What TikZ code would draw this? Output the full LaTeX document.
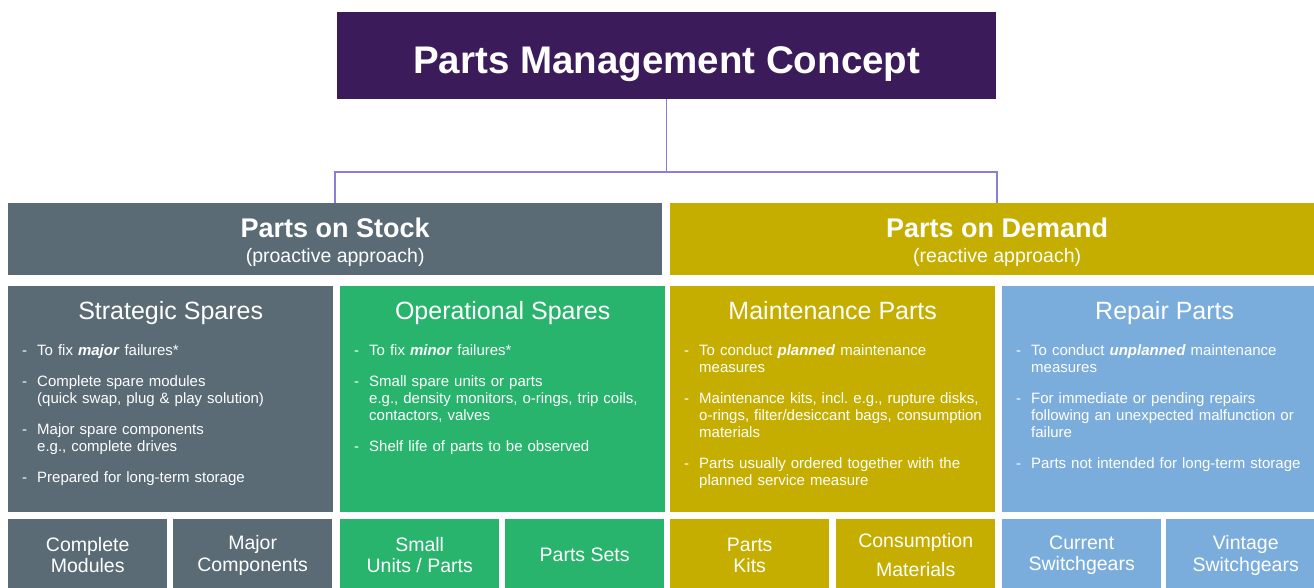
\documentclass[tikz,border=0pt]{standalone}
\usepackage{fontspec}
\setmainfont{Liberation Sans}
\usetikzlibrary{positioning}
\definecolor{pmcpurple}{HTML}{3B1B5A}
\definecolor{linkline}{HTML}{8A7ED6}
\definecolor{slate}{HTML}{5A6B76}
\definecolor{leaf}{HTML}{28B46C}
\definecolor{olive}{HTML}{C5AE00}
\definecolor{sky}{HTML}{7BADDC}
\newcommand\bul[1]{\par\noindent\hangindent=15pt\hangafter=1\makebox[15pt][l]{-}#1\par}

\begin{document}
\frenchspacing
\begin{tikzpicture}[x=1pt,y=-1pt,
    tile/.style={fill=#1, text=white, inner sep=0pt, anchor=north west},
    headbox/.style={minimum width=654pt, minimum height=72pt, align=center,
      text height=50pt, text depth=4pt, font=\fontsize{19.5}{25}\selectfont},
    midbox/.style={minimum width=325pt, minimum height=226pt},
    lowbox/.style={minimum width=159pt, minimum height=72pt, align=center,
      font=\fontsize{19.5}{21.5}\selectfont},
    ttl/.style={text=white, inner sep=0pt, font=\fontsize{25}{28}\selectfont},
    body/.style={text=white, inner sep=0pt, text width=305pt, align=left,
      font=\fontsize{15}{17}\selectfont\setlength\parskip{14pt}},
    link/.style={draw=linkline, line width=1.5pt}]
\useasboundingbox (0,0) rectangle (1314,587);

\node[tile=pmcpurple, minimum width=659pt, minimum height=87pt, text height=35pt, text depth=0pt,
  font=\fontsize{38.5}{44}\selectfont\bfseries] (pmc) at (337,12) {Parts Management Concept};

\node[tile=slate, headbox] (stock) at (8,203)
  {{\fontsize{27}{30}\selectfont\bfseries Parts on Stock}\\(proactive approach)};
\node[tile=olive, headbox] (demand) at (670,203)
  {{\fontsize{27}{30}\selectfont\bfseries Parts on Demand}\\(reactive approach)};

\draw[link] (pmc.south) -- (pmc.south |- 0,172) coordinate (fork);
\draw[link] (stock.north) |- (fork) -| (demand.north);

% middle row
\node[tile=slate, midbox] (strat) at (8,286) {};
\node[tile=leaf, midbox] (oper) at (340,286) {};
\node[tile=olive, midbox] (maint) at (670,286) {};
\node[tile=sky, midbox] (repair) at (1002,286) {};

\node[ttl, below=15pt of strat.north] {Strategic Spares};
\node[ttl, below=15pt of oper.north] {Operational Spares};
\node[ttl, below=15pt of maint.north] {Maintenance Parts};
\node[ttl, below=15pt of repair.north] {Repair Parts};

\node[body, below right=38pt and 14pt of strat.north west] (stratlist) {%
  \bul{To fix \textbf{\textit{major}} failures*}
  \bul{Complete spare modules\newline (quick swap, plug \& play solution)}
  \bul{Major spare components\newline e.g., complete drives}
  \bul{Prepared for long-term storage}};
\node[body, below right=38pt and 14pt of oper.north west] (operlist) {%
  \bul{To fix \textbf{\textit{minor}} failures*}
  \bul{Small spare units or parts\newline e.g., density monitors, o-rings, trip coils,\newline contactors, valves}
  \bul{Shelf life of parts to be observed}};
\node[body, below right=38pt and 14pt of maint.north west] (maintlist) {%
  \bul{To conduct \textbf{\textit{planned}} maintenance\newline measures}
  \bul{Maintenance kits, incl. e.g., rupture disks,\newline o-rings, filter/desiccant bags, consumption\newline materials}
  \bul{Parts usually ordered together with the\newline planned service measure}};
\node[body, below right=38pt and 14pt of repair.north west] (repairlist) {%
  \bul{To conduct \textbf{\textit{unplanned}} maintenance\newline measures}
  \bul{For immediate or pending repairs\newline following an unexpected malfunction or\newline failure}
  \bul{Parts not intended for long-term storage}};

% bottom row
\foreach \nm/\x/\c/\t in {cmod/8/slate/{Complete\\Modules}, mcomp/173/slate/{Major\\Components},
    units/340/leaf/{Small\\Units / Parts}, sets/505/leaf/{Parts Sets},
    kits/670/olive/{Parts\\Kits}, cons/836/olive/{Consumption\\[8pt]Materials},
    cur/1002/sky/{Current\\Switchgears}, vint/1166/sky/{Vintage\\Switchgears}}
  \node[tile=\c, lowbox] (\nm) at (\x,519) {\t};
\end{tikzpicture}
\end{document}
